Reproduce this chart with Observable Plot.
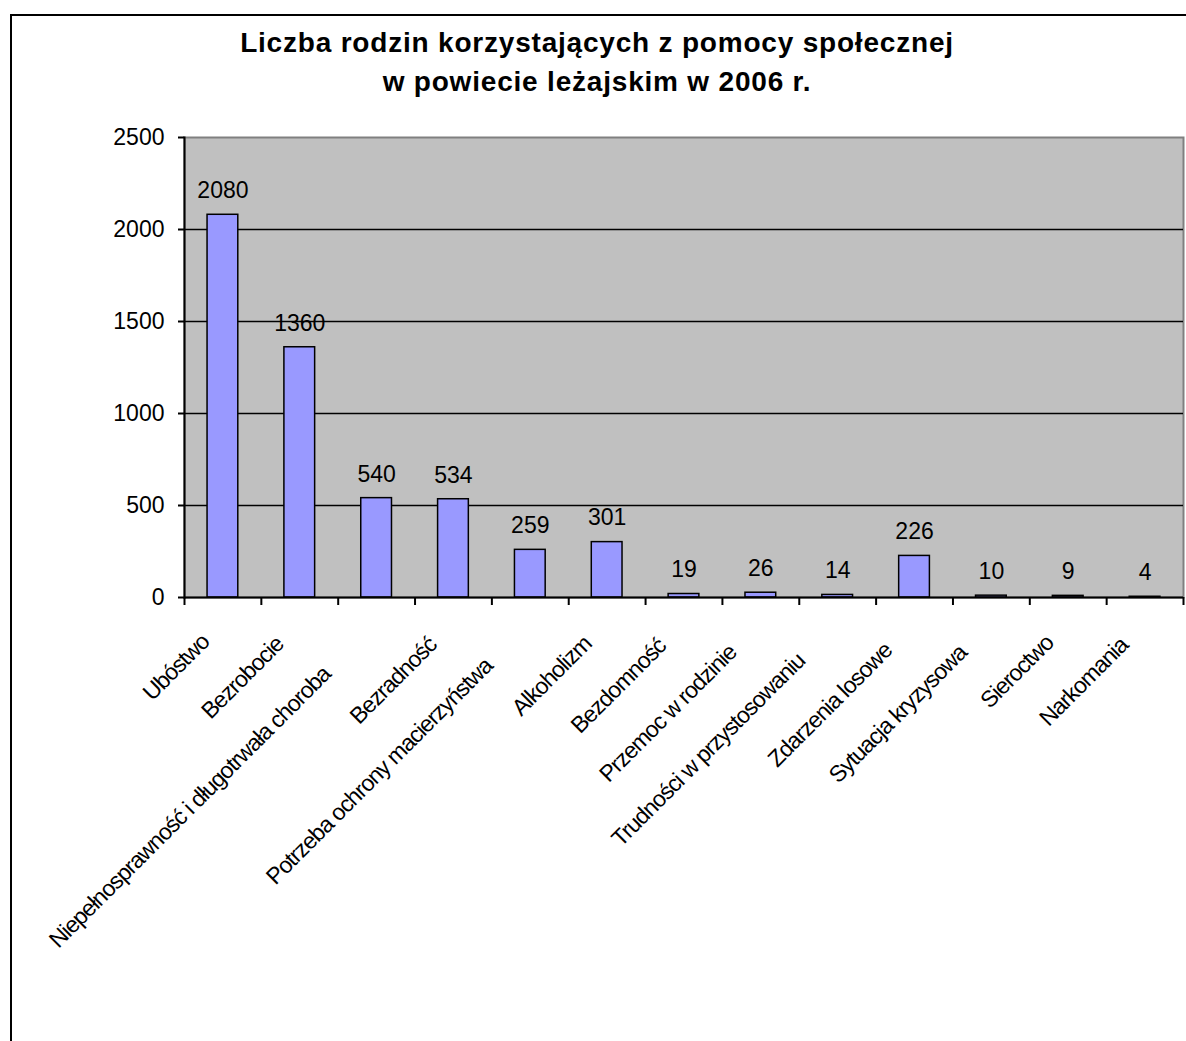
<!DOCTYPE html>
<html><head><meta charset="utf-8">
<script src="https://cdn.jsdelivr.net/npm/d3@7"></script>
<script src="https://cdn.jsdelivr.net/npm/@observablehq/plot@0.6"></script>
<style>
body{margin:0;background:#fff;font-family:"Liberation Sans",Arial,sans-serif;}
#wrap{position:relative;width:1186px;height:1041px;overflow:hidden;background:#fff}
#border{position:absolute;left:10px;top:14px;width:1300px;height:1200px;border-left:2px solid #000;border-top:2px solid #000;z-index:3;pointer-events:none}
#title{position:absolute;left:0;top:23px;width:1194px;text-align:center;font-weight:bold;font-size:28px;line-height:39px;letter-spacing:0.8px;color:#000}
#chart{position:absolute;left:0;top:100px}
.xlab text{letter-spacing:-1px}
</style>
</head><body>
<div id="wrap">
<div id="title">Liczba rodzin korzystających z pomocy społecznej<br>w powiecie leżajskim w 2006 r.</div>
<div id="chart"></div>
<div id="border"></div>
</div>
<script>
const categories = ["Ubóstwo","Bezrobocie","Niepełnosprawność i długotrwała choroba","Bezradność","Potrzeba ochrony macierzyństwa","Alkoholizm","Bezdomność","Przemoc w rodzinie","Trudności w przystosowaniu","Zdarzenia losowe","Sytuacja kryzysowa","Sieroctwo","Narkomania"];
const values = [2080,1360,540,534,259,301,19,26,14,226,10,9,4];
const yTicks = [0,500,1000,1500,2000,2500];
const gridValues = [500,1000,1500,2000];

const data = categories.map((c,i)=>({category:c, value:values[i]}));
const W=1186, H=941, ML=184, MR=3, MT=37, MB=444;
const step=(W-ML-MR)/categories.length;
const FONT = "'Liberation Sans', Arial, sans-serif";

const ctx = document.createElement("canvas").getContext("2d");
ctx.font = "23px 'Liberation Sans'";
function textLen(s){ return ctx.measureText(s).width - 1*s.length; }

const labelMarks = categories.map(c => {
  const L = textLen(c);
  const s = 0.106*(L-86);
  return Plot.text([c], {x: d=>d, text: d=>d, frameAnchor:"bottom", rotate:-45, textAnchor:"end", lineAnchor:"middle",
    fontSize:23, fill:"#000", dx: -18 - s, dy: 41 + s, className:"xlab"});
});

const chart = Plot.plot({
  width:W, height:H, marginLeft:ML, marginRight:MR, marginTop:MT, marginBottom:MB,
  style:{fontFamily:FONT, color:"#000", background:"transparent", overflow:"visible"},
  x:{domain:categories, paddingInner:0.6, paddingOuter:0.3, round:false, axis:null, label:null},
  y:{domain:[0,2500], axis:null, label:null},
  marks:[
    Plot.frame({fill:"#C0C0C0", stroke:"#808080", strokeWidth:2}),
    Plot.ruleY(gridValues, {stroke:"#000", strokeWidth:1.5}),
    Plot.barY(data, {x:"category", y:"value", fill:"#9999FF", stroke:"#000", strokeWidth:1.5}),
    Plot.ruleY([0], {stroke:"#000", strokeWidth:2}),
    Plot.frame({anchor:"left", stroke:"#000", strokeWidth:2}),
    Plot.axisY(yTicks, {tickSize:6, tickPadding:14, fontSize:23, tickFormat:d=>String(d), strokeWidth:2, label:null}),
    Plot.axisX(categories, {tickSize:8, text:null, dx:-step/2, strokeWidth:2, label:null}),
    Plot.axisX([categories[categories.length-1]], {tickSize:8, text:null, dx:step/2, strokeWidth:2, label:null}),
    Plot.text(data, {x:"category", y:"value", text:d=>String(d.value), dy:-24, fontSize:23, fill:"#000", lineAnchor:"middle"}),
    ...labelMarks
  ]
});
document.getElementById("chart").appendChild(chart);
</script>
</body></html>
